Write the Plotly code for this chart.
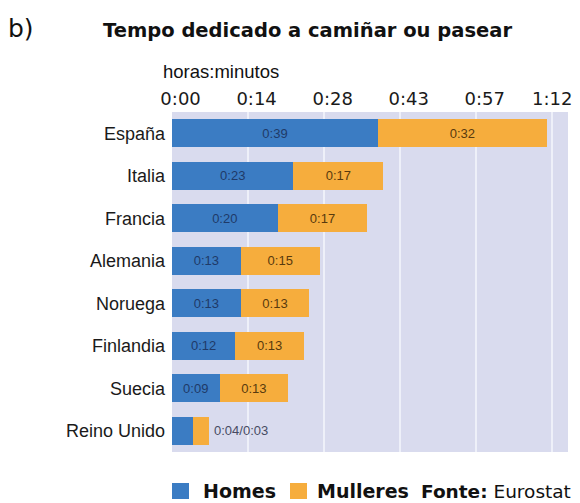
import plotly.graph_objects as go

paises = ["España", "Italia", "Francia", "Alemania", "Noruega", "Finlandia", "Suecia", "Reino Unido"]
homes = [39, 23, 20, 13, 13, 12, 9, 4]        # minutos
mulleres = [32, 17, 17, 15, 13, 13, 13, 3]    # minutos
tick_vals = [0, 14.4, 28.8, 43.2, 57.6, 72]
tick_text = ["0:00", "0:14", "0:28", "0:43", "0:57", "1:12"]

BLUE = "#3b7cc3"
ORANGE = "#f6ad3d"

# the page places the figure 8 px from the window's top-left corner
OFF = 8
FW, FH = 580 - OFF, 503 - OFF
# plot area in window pixels
L, R, T, B = 172, 568, 112, 452
W, H = R - L, B - T

def px(x):
    return (x - L) / W

def py(y):
    return (B - y) / H

def fmt(m):
    return f"{m // 60}:{m % 60:02d}"

# labels sit a little right of their gridline, except the last one (kept inside)
pad = "\u00a0" * 3
shown_ticks = [pad + t for t in tick_text[:-1]] + [tick_text[-1]]

inside = [i for i in range(len(paises)) if homes[i] >= 8]
fig = go.Figure()
fig.add_trace(go.Bar(
    y=paises, x=homes, orientation="h", name="Homes",
    marker=dict(color=BLUE, line=dict(width=0)),
    text=[fmt(v) if i in inside else "" for i, v in enumerate(homes)],
    textposition="inside", insidetextanchor="middle",
    textfont=dict(family="Liberation Sans", size=13, color="#1f3a68"),
    hoverinfo="skip",
))
fig.add_trace(go.Bar(
    y=paises, x=mulleres, orientation="h", name="Mulleres",
    marker=dict(color=ORANGE, line=dict(width=0)),
    text=[fmt(v) if i in inside else "" for i, v in enumerate(mulleres)],
    textposition="inside", insidetextanchor="middle",
    textfont=dict(family="Liberation Sans", size=13, color="#583a0e"),
    hoverinfo="skip",
))

for i, p in enumerate(paises):
    if i not in inside:
        fig.add_annotation(x=homes[i] + mulleres[i], y=p, xref="x", yref="y",
                           text=f"{fmt(homes[i])}/{fmt(mulleres[i])}",
                           showarrow=False, xanchor="left", xshift=3,
                           font=dict(family="Liberation Sans", size=13, color="#474b63"))

fig.update_layout(
    width=FW, height=FH,
    margin=dict(l=L - OFF, r=580 - R, t=T - OFF, b=503 - B, autoexpand=False),
    barmode="stack", bargap=0.34,
    paper_bgcolor="white", plot_bgcolor="#d9dbee",
    font=dict(family="Liberation Sans", color="#222"),
    showlegend=False,
    xaxis=dict(range=[0, W / 5.28], side="top", tickvals=tick_vals, ticktext=shown_ticks,
               showgrid=True, gridcolor="#eef0f9", gridwidth=2, zeroline=False,
               tickfont=dict(family="DejaVu Sans", size=18, color="#1a1a1a"),
               ticks="", showline=False, fixedrange=True, automargin=False,
               ticklabelstandoff=2),
    yaxis=dict(autorange="reversed", showgrid=False, zeroline=False,
               tickfont=dict(family="Liberation Sans", size=18, color="#1a1a1a"),
               ticks="", showline=False, fixedrange=True, automargin=False,
               ticklabelstandoff=6),
)

def note(x, y, text, size, family, anchor="left"):
    fig.add_annotation(xref="paper", yref="paper", x=px(x), y=py(y),
                       xanchor=anchor, yanchor="middle", text=text, showarrow=False,
                       font=dict(family=family, size=size, color="#111"))

note(6, 28, "b)", 25, "DejaVu Sans")
note(101, 31, "<b>Tempo dedicado a camiñar ou pasear</b>", 19.5, "DejaVu Sans")
note(161, 72, "horas:minutos", 18.5, "Liberation Sans")

# legend built from swatches and labels
leg_y = 491
for x0, col in [(172, BLUE), (290, ORANGE)]:
    fig.add_shape(type="rect", xref="paper", yref="paper",
                  x0=px(x0), x1=px(x0 + 17), y0=py(leg_y + 8), y1=py(leg_y - 8),
                  fillcolor=col, line=dict(width=0))
note(201, leg_y, "<b>Homes</b>", 19, "DejaVu Sans")
note(315, leg_y, "<b>Mulleres</b>", 19, "DejaVu Sans")
note(419, leg_y, "<b>Fonte:</b> Eurostat", 18.5, "DejaVu Sans")

fig.write_html("out.html")
